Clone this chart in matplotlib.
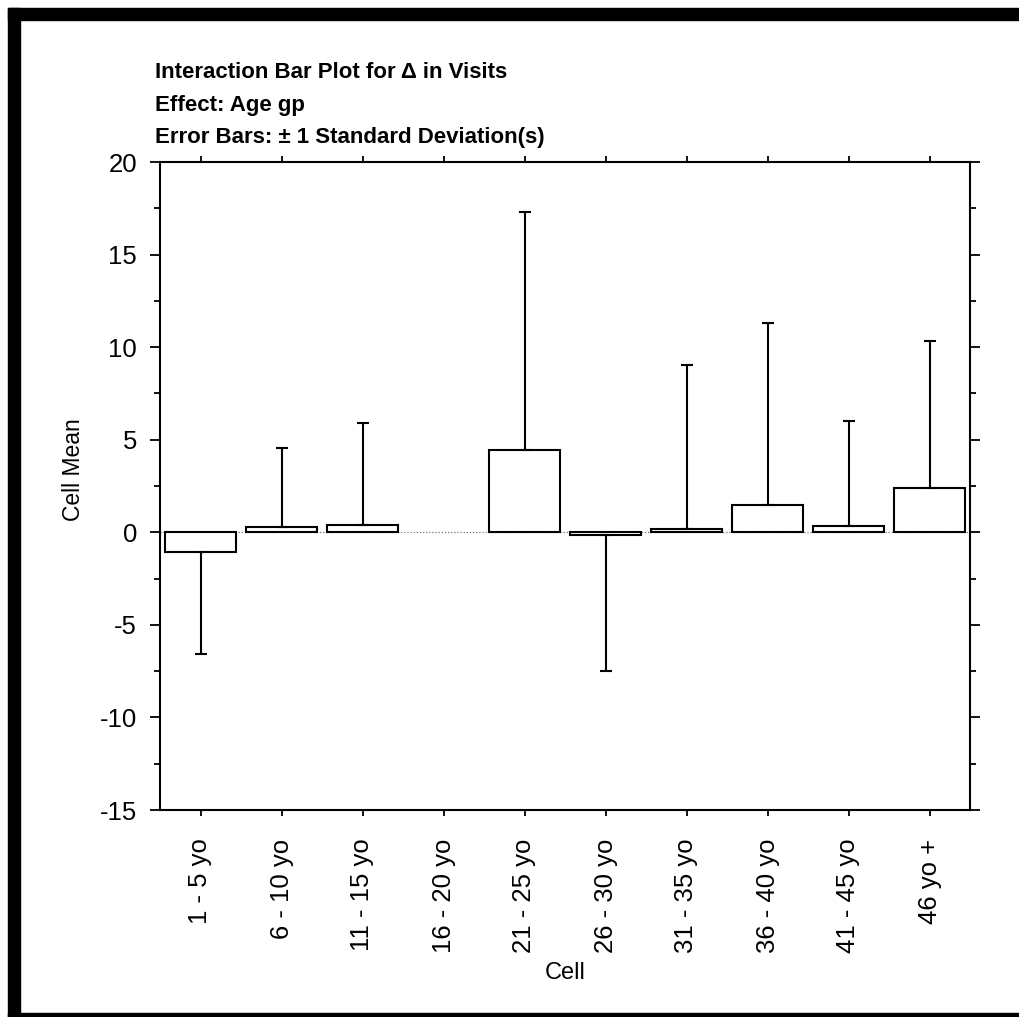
import numpy as np
import matplotlib
matplotlib.use("Agg")
import matplotlib.pyplot as plt
from matplotlib.patches import Rectangle

plt.rcParams['font.family'] = ['Liberation Sans', 'DejaVu Sans']

# Interaction bar plot: change in visits by age group
cells = ['1 - 5 yo', '6 - 10 yo', '11 - 15 yo', '16 - 20 yo', '21 - 25 yo',
         '26 - 30 yo', '31 - 35 yo', '36 - 40 yo', '41 - 45 yo', '46 yo +']
cell_mean = [-1.05, 0.27, 0.42, np.nan, 4.45, -0.15, 0.16, 1.47, 0.34, 2.37]
cell_sd = [5.5, 4.3, 5.5, np.nan, 12.85, 7.35, 8.85, 9.85, 5.65, 7.95]

title_lines = ['Interaction Bar Plot for \u0394 in Visits',
               'Effect: Age gp',
               'Error Bars: \u00b1 1 Standard Deviation(s)']
y_ticks = [20, 15, 10, 5, 0, -5, -10, -15]

W, H = 1019, 1017
fig = plt.figure(figsize=(W / 100, H / 100), dpi=100)
ax = fig.add_axes([160 / W, 1 - 810 / H, 810 / W, 648 / H])

x = np.arange(len(cells))
means = np.array(cell_mean)
sds = np.array(cell_sd)
ok = ~np.isnan(means)

ax.axhline(0, color='#777777', lw=0.9, ls=(0, (1, 1.5)), zorder=1)
ax.bar(x[ok], means[ok], width=0.88, color='white', edgecolor='black',
       lw=1.5, zorder=2)

# error bars only drawn away from zero
lower = np.where(means < 0, sds, 0)
upper = np.where(means >= 0, sds, 0)
ax.errorbar(x[ok], means[ok], yerr=[lower[ok], upper[ok]], fmt='none',
            ecolor='black', elinewidth=1.5, capsize=4.5, capthick=1.5,
            zorder=3)

ax.set_xlim(-0.5, len(cells) - 0.5)
ax.set_ylim(-15, 20)
ax.set_xticks(x, cells, rotation=90)
ax.set_yticks(y_ticks, [str(v) for v in y_ticks])
ax.set_yticks(np.arange(-12.5, 20, 5), minor=True)

ax.tick_params(axis='y', which='major', direction='out', length=7.5,
               width=1.3, labelsize=18.5, pad=9, right=True)
ax.tick_params(axis='y', which='minor', direction='out', length=4,
               width=1.3, right=True)
ax.tick_params(axis='x', direction='out', length=4.5, width=1.3, top=True,
               labelsize=18.5, pad=16)
for s in ax.spines.values():
    s.set_linewidth(1.5)

ax.set_ylabel('Cell Mean', fontsize=16.5)
ax.yaxis.set_label_coords(-0.093, 0.525)
ax.set_xlabel('Cell', fontsize=17)
ax.xaxis.set_label_coords(0.5, -0.234)

# three line header, left aligned
for i, line in enumerate(title_lines):
    fig.text(155 / W, 1 - (78 + 32.5 * i) / H, line, fontsize=16,
             fontweight='bold', ha='left', va='baseline')

# black frame round the page
fig.patches.extend([
    Rectangle((8 / W, 0), 12 / W, (H - 8) / H, color='black',
              transform=fig.transFigure),
    Rectangle((8 / W, 1 - 20 / H), (W - 8) / W, 12 / H, color='black',
              transform=fig.transFigure),
    Rectangle((8 / W, 0), (W - 8) / W, 4 / H, color='black',
              transform=fig.transFigure),
])

fig.savefig('out.png', dpi=100)
